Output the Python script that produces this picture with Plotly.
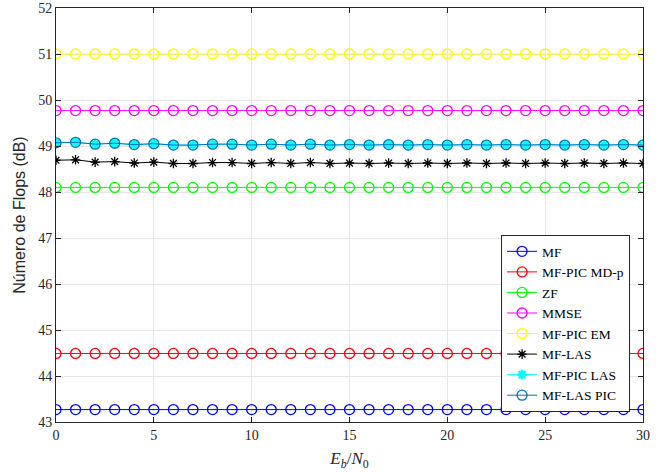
import plotly.graph_objects as go

ebn0 = list(range(0, 31))
mf = [43.27] * 31
mf_pic_mdp = [44.49] * 31
zf = [48.10] * 31
mmse = [49.77] * 31
mf_pic_em = [51.0] * 31
mf_las = [48.69, 48.70, 48.65, 48.66, 48.63, 48.65, 48.62, 48.62, 48.64, 48.64,
          48.62, 48.64, 48.62, 48.64, 48.62, 48.63, 48.62, 48.63, 48.62, 48.63,
          48.62, 48.63, 48.62, 48.63, 48.62, 48.63, 48.62, 48.63, 48.62, 48.63, 48.62]
mf_las_pic = [49.07, 49.08, 49.04, 49.06, 49.03, 49.05, 49.02, 49.02, 49.04, 49.04,
              49.02, 49.04, 49.02, 49.04, 49.02, 49.03, 49.02, 49.03, 49.02, 49.03,
              49.02, 49.03, 49.02, 49.03, 49.02, 49.03, 49.02, 49.03, 49.02, 49.03, 49.02]
mf_pic_las = mf_las_pic

series = [
    ("MF", mf, "#0000FF", "circle-open", 10),
    ("MF-PIC MD-p", mf_pic_mdp, "#FF0000", "circle-open", 10),
    ("ZF", zf, "#00FF00", "circle-open", 10),
    ("MMSE", mmse, "#FF00FF", "circle-open", 10),
    ("MF-PIC EM", mf_pic_em, "#FFFF00", "circle-open", 10),
    ("MF-LAS", mf_las, "#000000", "asterisk-open", 8),
    ("MF-PIC LAS", mf_pic_las, "#00FFFF", "asterisk-open", 8),
    ("MF-LAS PIC", mf_las_pic, "#0072BD", "circle-open", 10),
]

fig = go.Figure()
for name, ys, color, sym, sz in series:
    lw = 2.5 if name == "MF-PIC LAS" else 1.3
    fig.add_trace(go.Scatter(
        x=ebn0, y=ys, name=name, mode="lines+markers",
        line=dict(color=color, width=1.0),
        marker=dict(symbol=sym, size=sz, color=color, line=dict(width=lw, color=color)),
    ))

serif = "Liberation Serif, DejaVu Serif, serif"
fig.update_layout(
    width=666, height=472,
    margin=dict(l=56, r=23, t=8, b=50),
    paper_bgcolor="white", plot_bgcolor="white",
    font=dict(family=serif, size=13, color="#262626"),
    xaxis=dict(
        range=[0, 30], tickmode="array", tickvals=[0, 5, 10, 15, 20, 25, 30],
        showgrid=True, gridcolor="#E6E6E6", gridwidth=1,
        showline=True, linecolor="#262626", linewidth=1, mirror="ticks",
        ticks="inside", ticklen=5, tickcolor="#262626",
        zeroline=False, automargin=False,
        title=dict(text="<i>E</i><sub><i>b</i></sub>/<i>N</i><sub>0</sub>",
                   font=dict(family=serif, size=17), standoff=10),
        tickfont=dict(family=serif, size=14),
    ),
    yaxis=dict(
        range=[43, 52], tickmode="array", tickvals=list(range(43, 53)),
        showgrid=True, gridcolor="#E6E6E6", gridwidth=1,
        showline=True, linecolor="#262626", linewidth=1, mirror="ticks",
        ticks="inside", ticklen=5, tickcolor="#262626",
        zeroline=False, automargin=False,
        title=dict(text="Número de Flops (dB)",
                   font=dict(family="Liberation Sans, Arial, sans-serif", size=16), standoff=8),
        tickfont=dict(family=serif, size=14),
    ),
    legend=dict(
        x=0.978, y=0.024, xanchor="right", yanchor="bottom",
        bgcolor="white", bordercolor="#262626", borderwidth=1,
        font=dict(family=serif, size=13.5, color="#000000"),
        tracegroupgap=0,
    ),
    showlegend=True,
)

fig.write_html("out.html", config={"displayModeBar": False},
               post_script="document.body.style.margin='0';")
